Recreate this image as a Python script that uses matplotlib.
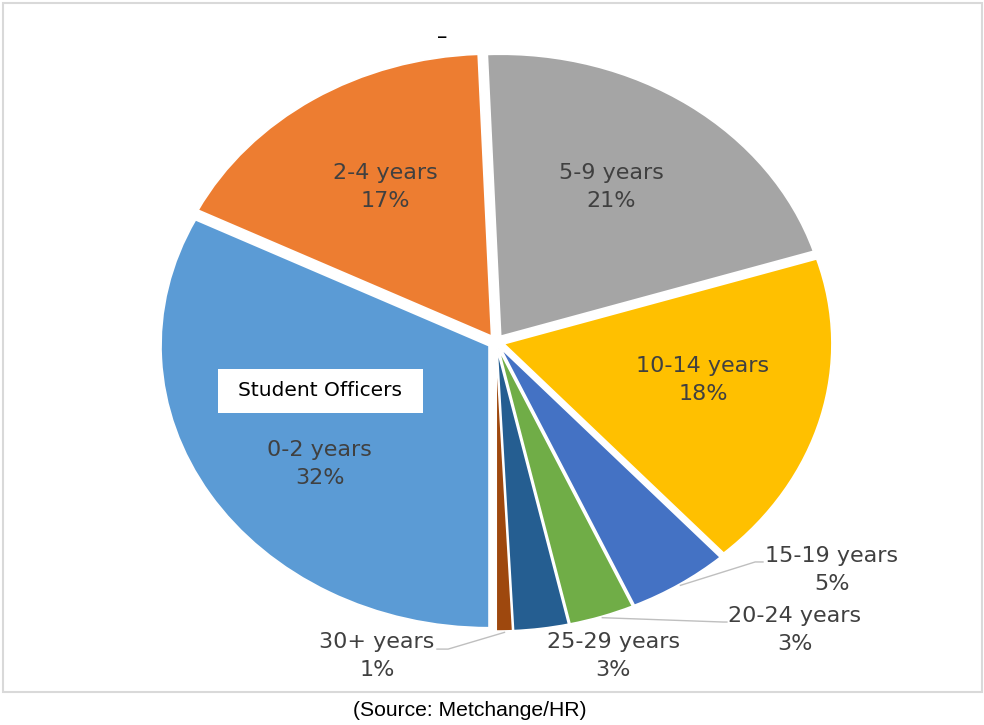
import numpy as np
import matplotlib
matplotlib.use("Agg")
import matplotlib.pyplot as plt
from matplotlib.patches import Rectangle

# data, in Excel series order (clockwise); shares
categories = ["0-2 years", "2-4 years", "5-9 years", "10-14 years",
              "15-19 years", "20-24 years", "25-29 years", "30+ years"]
shares = [32.4, 17.0, 20.8, 18.2, 5.0, 3.2, 2.7, 0.8]
colors = ["#5B9BD5", "#ED7D31", "#A5A5A5", "#FFC000",
          "#4472C4", "#70AD47", "#255E91", "#9E480E"]

# label centres in axes data units (pie radius = 1)
label_pos = [(-0.537, -0.433), (-0.338, 0.551), (0.351, 0.548), (0.631, -0.135),
             (1.024, -0.809), (0.91, -1.02), (0.357, -1.115), (-0.363, -1.115)]
# leader lines: bend point and end point (None = no leader)
leader_knee = [None, None, None, None,
               (0.79, -0.78), (0.692, -0.993), None, (-0.146, -1.089)]
leader_end = [None, None, None, None,
              (0.814, -0.78), (0.704, -0.993), None, (-0.18, -1.089)]

TXT = "#404040"
FONT = ["DejaVu Sans"]

W, H = 984, 725
fig = plt.figure(figsize=(W / 100, H / 100), dpi=100)

cx, cy = 496, 725 - 342
rx, ry = 328, 282
span = 1.2
ax = fig.add_axes([(cx - span * rx) / W, (cy - span * ry) / H,
                   2 * span * rx / W, 2 * span * ry / H])

wedges, _ = ax.pie(shares, colors=colors, startangle=270, counterclock=False,
                   explode=[0.025] * len(shares), radius=1.0,
                   wedgeprops=dict(edgecolor="white", linewidth=1.2))
ax.set_xlim(-span, span)
ax.set_ylim(-span, span)
ax.set_aspect("auto")
ax.axis("off")

for i, w in enumerate(wedges):
    x, y = label_pos[i]
    ax.text(x, y, f"{categories[i]}\n{round(shares[i])}%", ha="center", va="center",
            fontsize=16, color=TXT, family=FONT, linespacing=1.5)
    if leader_knee[i] is not None:
        mid = np.deg2rad((w.theta1 + w.theta2) / 2)
        x0, y0 = 1.03 * np.cos(mid), 1.03 * np.sin(mid)
        kx, ky = leader_knee[i]
        ex, ey = leader_end[i]
        ax.plot([x0, kx, ex], [y0, ky, ey], color="#BFBFBF", lw=1.0)

# "Student Officers" tag on the 0-2 slice
ax.add_patch(Rectangle(((218 - cx) / rx, (725 - 413 - cy) / ry), 205 / rx, 44 / ry,
                       facecolor="white", edgecolor="none", zorder=3))
ax.text((320.5 - cx) / rx, (725 - 391 - cy) / ry, "Student Officers",
        ha="center", va="center", fontsize=14.5, color="black", family=FONT, zorder=4)

# stray dash where the chart title would be
fig.text(442 / W, 1 - 37 / H, "–", ha="center", va="center", fontsize=15, color="black")

# chart frame and source line
fig.add_artist(Rectangle((3 / W, 1 - 692 / H), 979 / W, 689 / H,
                         transform=fig.transFigure, fill=False,
                         edgecolor="#D9D9D9", linewidth=1.5))
fig.text(470 / W, 1 - 711 / H, "(Source: Metchange/HR)", ha="center", va="center",
         fontsize=15.2, color="black", family=["Liberation Sans", "DejaVu Sans"])

fig.savefig("out.png", dpi=100)
